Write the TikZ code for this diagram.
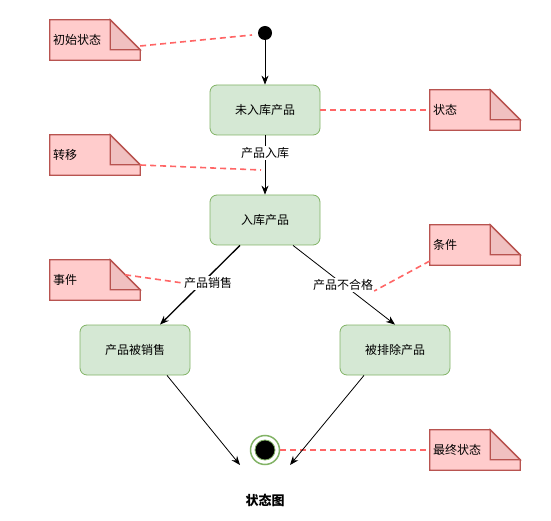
\documentclass[tikz,border=0pt]{standalone}
\usepackage{fontspec}
\setmainfont{Noto Sans CJK SC}
\usetikzlibrary{arrows.meta}
\pgfdeclarelayer{bg}
\pgfsetlayers{bg,main}
\definecolor{stfill}{HTML}{D5E8D4}
\definecolor{stline}{HTML}{82B366}
\definecolor{nfill}{HTML}{FFCCCC}
\definecolor{nfold}{HTML}{F0C0C0}
\definecolor{nline}{HTML}{B85450}
\definecolor{dline}{HTML}{FF6666}
\tikzset{
  every node/.style={font=\fontsize{12pt}{14pt}\selectfont},
  state/.style={draw=stline, fill=stfill, rounded corners=7pt, minimum width=110pt, minimum height=50pt, line width=0.8pt, inner sep=0pt},
  note/.style={minimum height=40pt, text width=84pt, inner xsep=3pt, inner ysep=0pt, align=left},
  notebody/.style={draw=nline, fill=nfill, line width=1.3pt, line join=miter},
  notefold/.style={draw=nline, fill=nfold, line width=1.3pt},
  link/.style={draw=dline, line width=1.6pt, dash pattern=on 6pt off 4pt},
  arr/.style={draw=black, line width=0.8pt, -{Stealth[length=9pt,width=7pt,inset=3pt]}},
  lbl/.style={fill=white, inner sep=1pt},
}
\newcommand{\drawnote}[1]{%
  \begin{pgfonlayer}{bg}
  \path[notebody] (#1.north west) -- ([xshift=-30pt]#1.north east) -- ([yshift=-30pt]#1.north east) -- (#1.south east) -- (#1.south west) -- cycle;
  \path[notefold] ([xshift=-30pt]#1.north east) -- ([xshift=-30pt,yshift=-30pt]#1.north east) -- ([yshift=-30pt]#1.north east) -- cycle;
  \end{pgfonlayer}}
\begin{document}
\begin{tikzpicture}[x=1pt,y=-1pt]
\useasboundingbox (0,0) rectangle (551,521);
% states
\node[circle, fill=black, minimum size=14pt, inner sep=0pt] (init) at (265,33) {};
\node[state] (s1) at (265,110) {未入库产品};
\node[state] (s2) at (265,220) {入库产品};
\node[state] (sold) at (135,350) {产品被销售};
\node[state] (rej) at (395,350) {被排除产品};
\node[circle, draw=stline, fill=white, line width=1.5pt, minimum size=29pt, inner sep=0pt] (final) at (265,450) {};
\node[circle, draw=stline, fill=black, line width=0.8pt, minimum size=20pt, inner sep=0pt] (finalin) at (265,450) {};
% notes
\node[note] (ninit) at (95,40) {初始状态};
\node[note] (nstate) at (475,110) {状态};
\node[note] (ntrans) at (95,155) {转移};
\node[note] (nevent) at (95,280) {事件};
\node[note] (ncond) at (475,245) {条件};
\node[note] (nfinal) at (475,450) {最终状态};
\drawnote{ninit}\drawnote{nstate}\drawnote{ntrans}\drawnote{nevent}\drawnote{ncond}\drawnote{nfinal}
% free ends
\coordinate (pinit) at (252,35);
\coordinate (ptrans) at (261,170);
% dashed links
\draw[link] ([yshift=-6pt]ninit.east) -- (pinit);
\draw[link] (s1.east) -- (nstate.west);
\draw[link] ([yshift=-10pt]ntrans.east) -- (ptrans);
\draw[link] (final.east) -- (nfinal.west);
% transitions
\draw[arr] (init) -- (s1.north);
\draw[arr] (s1.south) -- (s2.north);
\draw[arr, line width=1.3pt] ([xshift=-25pt]s2.south) -- ([xshift=25pt]sold.north);
\draw[arr] ([xshift=28pt]s2.south) -- (rej.north);
\draw[arr] ([xshift=32pt]sold.south) -- ([xshift=-25pt,yshift=-15pt]final.center);
\draw[arr] ([xshift=-31pt]rej.south) -- ([xshift=25pt,yshift=-15pt]final.center);
% labels
\node[lbl] (lin) at (265,153) {产品入库};
\node[lbl] (lsell) at (208,283) {产品销售};
\node[lbl] (lrej) at (343,285) {产品不合格};
\draw[link] ([xshift=-15pt,yshift=-15pt]nevent.north east) -- (lsell.west);
\draw[link] ([yshift=-16pt]ncond.west) -- ([yshift=-6pt]lrej.east);
% title
\node[font=\fontsize{13pt}{15pt}\selectfont\bfseries] (title) at (265,500) {状态图};
\end{tikzpicture}
\end{document}
